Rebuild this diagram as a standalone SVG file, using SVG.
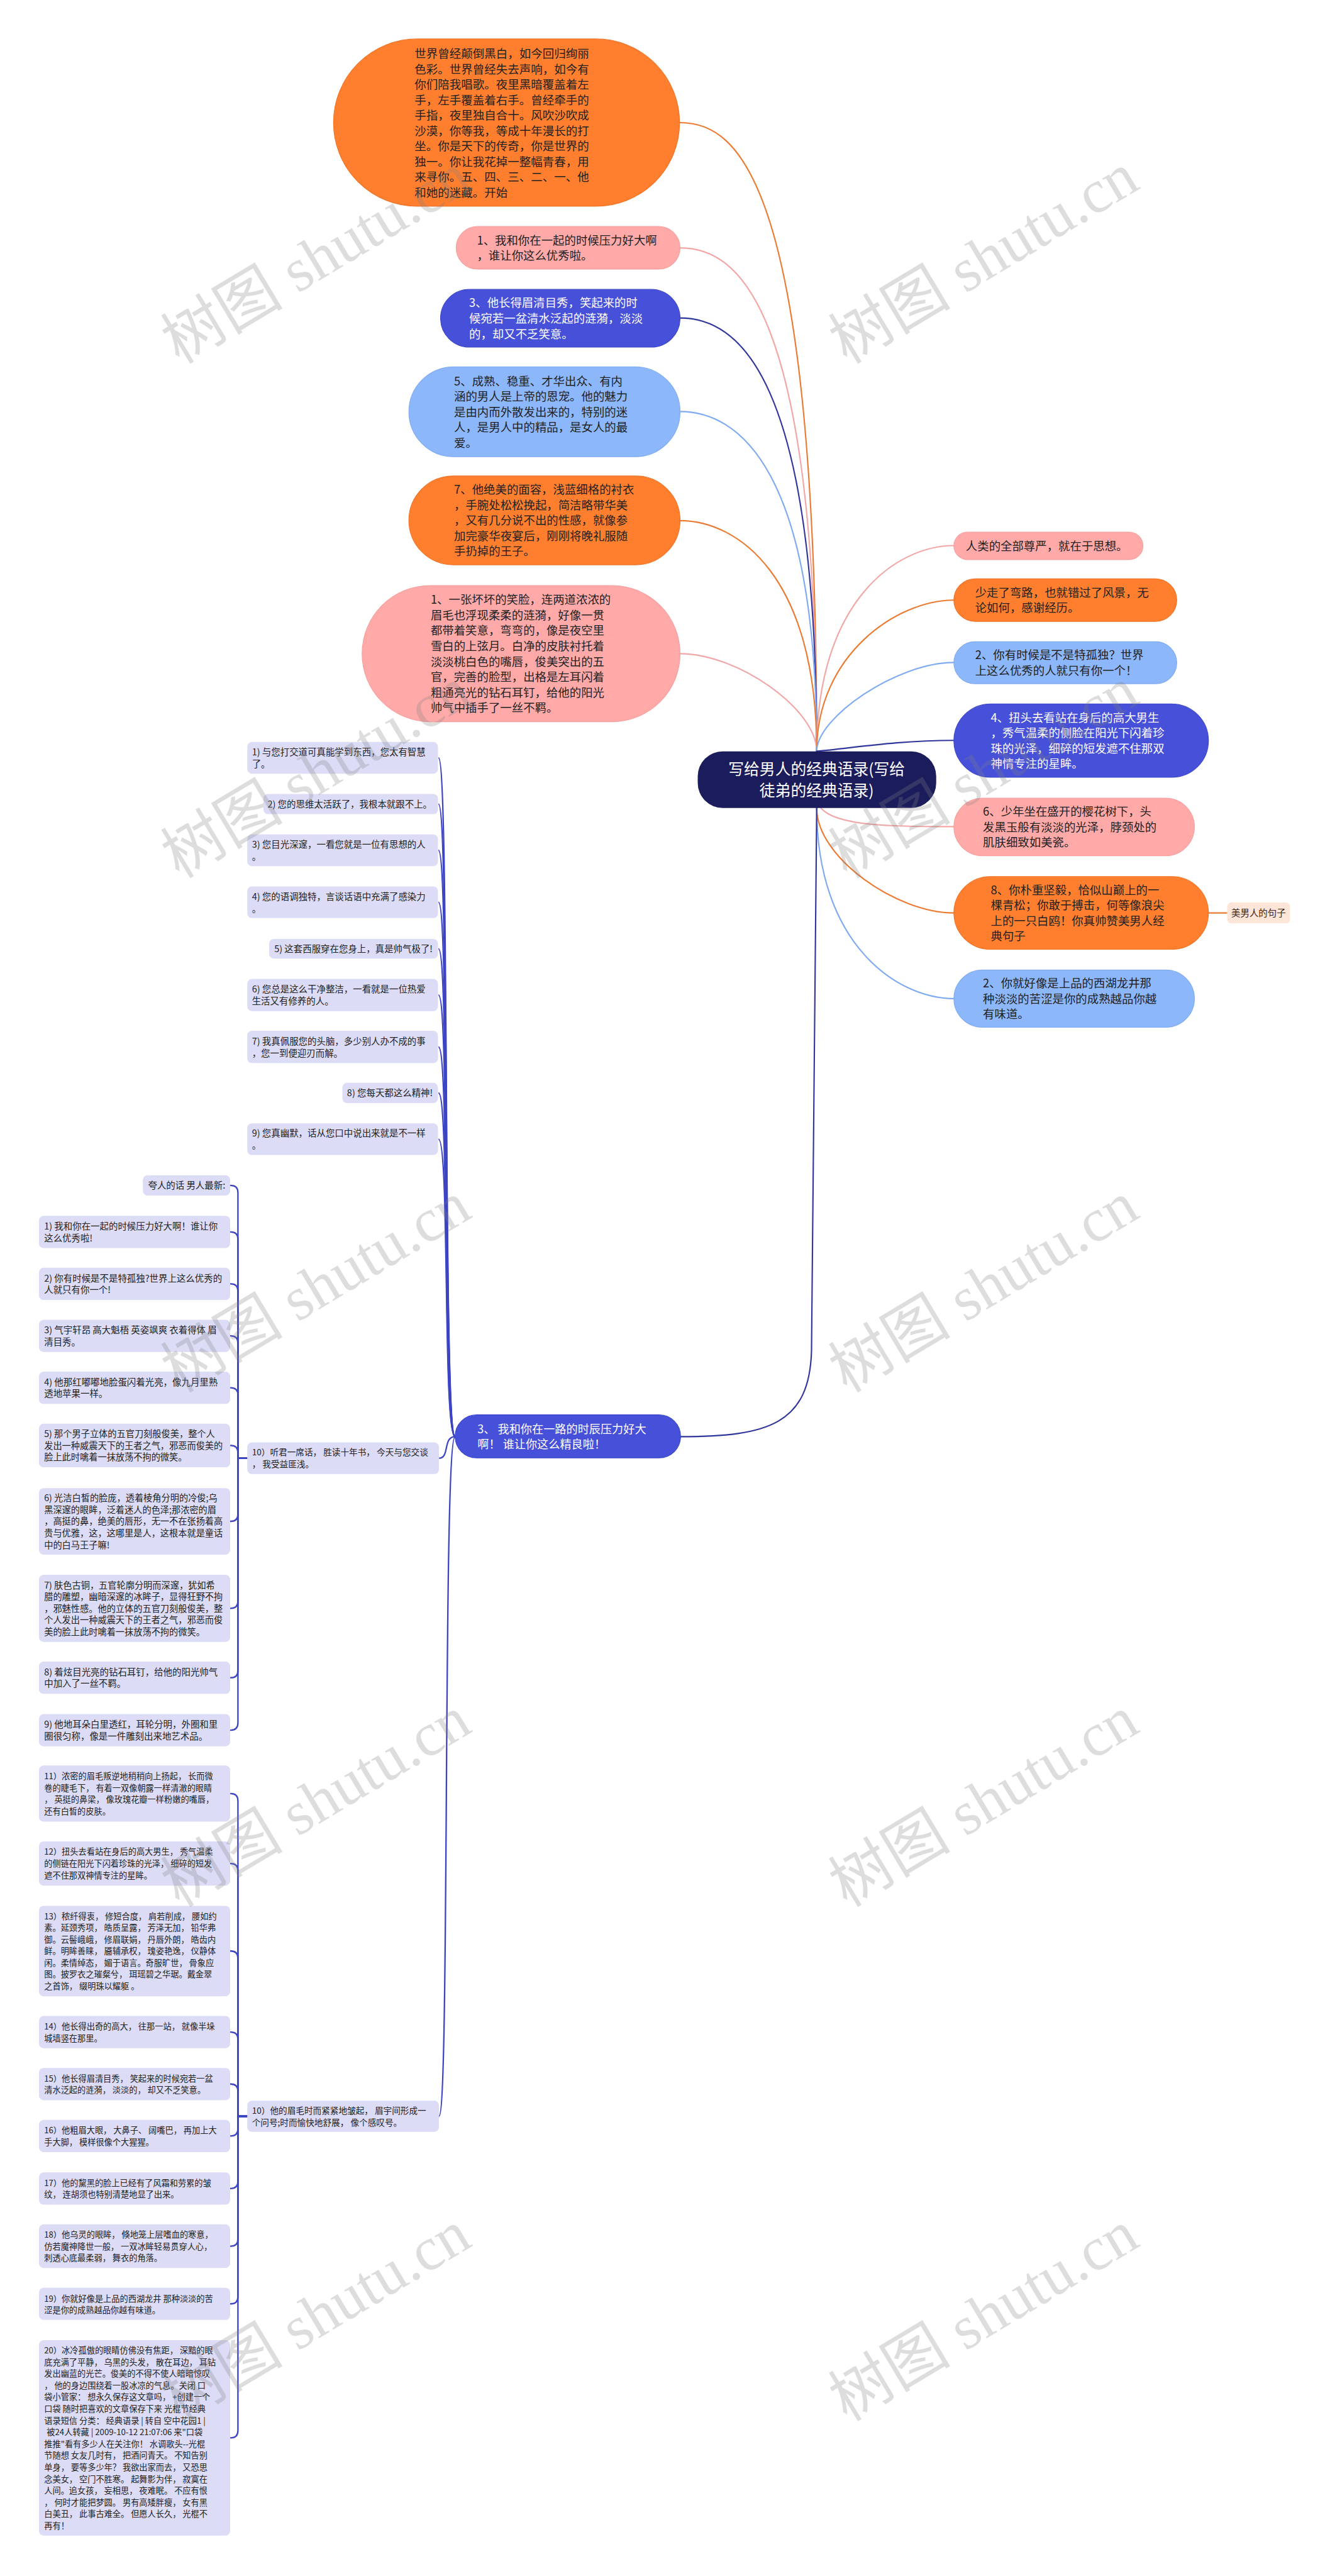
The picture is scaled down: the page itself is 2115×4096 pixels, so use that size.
<svg xmlns="http://www.w3.org/2000/svg" width="2115" height="4096" viewBox="0 0 2115 4096">
<style>
text{font-family:"Noto Sans CJK SC","Noto Sans",sans-serif;fill:#222}
.w{fill:#fff}
.f22{font-size:22.3px}
.f30{font-size:30px}
.f17{font-size:17.5px}
.f16{font-size:16px}
.f165{font-size:16.5px}
.c{fill:none;stroke-width:2.6;stroke-linecap:round}
.co{stroke:#eb7a32}
.cp{stroke:#f2a7a6}
.cn{stroke:#30369c}
.cl{stroke:#7eaaf2}
.cs{fill:none;stroke:#3d45c3;stroke-width:2.8}
.no{fill:#ff7f2f;stroke:#f07426;stroke-width:1.5}
.np{fill:#ffaaa9;stroke:#f7a09f;stroke-width:1.5}
.nb{fill:#4750d8;stroke:#3f48cc;stroke-width:1.5}
.nl{fill:#8db7fb;stroke:#80acf3;stroke-width:1.5}
.nv{fill:#dcdcf7}
.wm{font-family:"Liberation Serif","Noto Sans CJK SC",serif;font-size:118px;fill:#808080;fill-opacity:0.27}
</style>
<rect width="2115" height="4096" fill="#fff"/>
<g transform="scale(0.82617)">
<g id="connectors">
<path class="c co" d="M1309 236 C1419 236 1572 342 1572 1446"/>
<path class="c cp" d="M1309 477 C1419 477 1572 583 1572 1446"/>
<path class="c cn" d="M1309 612 C1419 612 1572 718 1572 1446"/>
<path class="c cl" d="M1309 792 C1419 792 1572 898 1572 1446"/>
<path class="c co" d="M1309 1002 C1419 1002 1572 1108 1572 1446"/>
<path class="c cp" d="M1309 1258 C1419 1258 1572 1364 1572 1446"/>
<path class="c cp" d="M1572 1446 C1572 1156 1726 1050 1836 1050"/>
<path class="c co" d="M1572 1446 C1572 1261 1726 1155 1836 1155"/>
<path class="c cl" d="M1572 1446 C1572 1381 1726 1275 1836 1275"/>
<path class="c cn" d="M1572 1446 C1640 1440 1726 1425 1836 1425"/>
<path class="c cp" d="M1580 1555 C1610 1591 1726 1591 1836 1591"/>
<path class="c co" d="M1572 1555 C1572 1651 1726 1757 1836 1757"/>
<path class="c cl" d="M1572 1555 C1572 1816 1726 1922 1836 1922"/>
<path class="c co" d="M2326 1757 H2362"/>
<path class="c cn" d="M1572 1555 L1562 2600 C1558 2740 1480 2765 1310 2765"/>
<path class="cs" d="M876 2765 C852 2765 866 1458.5 844 1458.5"/>
<path class="cs" d="M876 2765 C852 2765 866 1547.5 844 1547.5"/>
<path class="cs" d="M876 2765 C852 2765 866 1636.5 844 1636.5"/>
<path class="cs" d="M876 2765 C852 2765 866 1736.5 844 1736.5"/>
<path class="cs" d="M876 2765 C852 2765 866 1826 844 1826"/>
<path class="cs" d="M876 2765 C852 2765 866 1915 844 1915"/>
<path class="cs" d="M876 2765 C852 2765 866 2015 844 2015"/>
<path class="cs" d="M876 2765 C852 2765 866 2103.5 844 2103.5"/>
<path class="cs" d="M876 2765 C852 2765 866 2192.5 844 2192.5"/>
<path class="cs" d="M876 2765 C852 2765 866 2806.5 845 2806.5"/>
<path class="cs" d="M876 2765 C852 2765 866 4073 845 4073"/>
<path class="cs" d="M476 2806.5 H458 V2295.5 Q458 2281.5 444 2281.5 H443"/>
<path class="cs" d="M476 2806.5 H458 V2385 Q458 2371 444 2371 H443"/>
<path class="cs" d="M476 2806.5 H458 V2485 Q458 2471 444 2471 H443"/>
<path class="cs" d="M476 2806.5 H458 V2585 Q458 2571 444 2571 H443"/>
<path class="cs" d="M476 2806.5 H458 V2685 Q458 2671 444 2671 H443"/>
<path class="cs" d="M476 2806.5 H458 V2796 Q458 2782 444 2782 H443"/>
<path class="cs" d="M476 2806.5 H458 V2914 Q458 2928 444 2928 H443"/>
<path class="cs" d="M476 2806.5 H458 V3081.5 Q458 3095.5 444 3095.5 H443"/>
<path class="cs" d="M476 2806.5 H458 V3215 Q458 3229 444 3229 H443"/>
<path class="cs" d="M476 2806.5 H458 V3316 Q458 3330 444 3330 H443"/>
<path class="cs" d="M476 4073 H458 V3466 Q458 3452 444 3452 H443"/>
<path class="cs" d="M476 4073 H458 V3600.5 Q458 3586.5 444 3586.5 H443"/>
<path class="cs" d="M476 4073 H458 V3769 Q458 3755 444 3755 H443"/>
<path class="cs" d="M476 4073 H458 V3925 Q458 3911 444 3911 H443"/>
<path class="cs" d="M476 4073 H458 V4025 Q458 4011 444 4011 H443"/>
<path class="cs" d="M476 4073 H458 V4097 Q458 4111 444 4111 H443"/>
<path class="cs" d="M476 4073 H458 V4198 Q458 4212 444 4212 H443"/>
<path class="cs" d="M476 4073 H458 V4309 Q458 4323 444 4323 H443"/>
<path class="cs" d="M476 4073 H458 V4420 Q458 4434 444 4434 H443"/>
<path class="cs" d="M476 4073 H458 V4678 Q458 4692 444 4692 H443"/>
</g>

<g id="n-top">
<rect class="no" x="642" y="75" width="666" height="322" rx="161"/>
<text style="font-size:22.4px">
<tspan x="798" y="111.5">世界曾经颠倒黑白，如今回归绚丽</tspan>
<tspan x="798" y="141.2">色彩。世界曾经失去声响，如今有</tspan>
<tspan x="798" y="170.9">你们陪我唱歌。夜里黑暗覆盖着左</tspan>
<tspan x="798" y="200.6">手，左手覆盖着右手。曾经牵手的</tspan>
<tspan x="798" y="230.3">手指，夜里独自合十。风吹沙吹成</tspan>
<tspan x="798" y="260">沙漠，你等我，等成十年漫长的打</tspan>
<tspan x="798" y="289.7">坐。你是天下的传奇，你是世界的</tspan>
<tspan x="798" y="319.4">独一。你让我花掉一整幅青春，用</tspan>
<tspan x="798" y="349.1">来寻你。五、四、三、二、一、他</tspan>
<tspan x="798" y="378.8">和她的迷藏。开始</tspan>
</text>
</g>

<g id="n-l1">
<rect class="np" x="878" y="436" width="431" height="82" rx="41"/>
<text class="f22"><tspan x="918" y="470.6">1、我和你在一起的时候压力好大啊</tspan><tspan x="918" y="500.3">，谁让你这么优秀啦。</tspan></text>
</g>

<g id="n-l3">
<rect class="nb" x="848" y="557" width="461" height="111" rx="55.5"/>
<text class="f22 w"><tspan x="903" y="591.3">3、他长得眉清目秀，笑起来的时</tspan><tspan x="903" y="621">候宛若一盆清水泛起的涟漪，淡淡</tspan><tspan x="903" y="650.7">的，却又不乏笑意。</tspan></text>
</g>

<g id="n-l5">
<rect class="nl" x="787" y="706" width="522" height="173" rx="86.5"/>
<text class="f22"><tspan x="874" y="741.6">5、成熟、稳重、才华出众、有内</tspan><tspan x="874" y="771.3">涵的男人是上帝的恩宠。他的魅力</tspan><tspan x="874" y="801">是由内而外散发出来的，特别的迷</tspan><tspan x="874" y="830.7">人，是男人中的精品，是女人的最</tspan><tspan x="874" y="860.4">爱。</tspan></text>
</g>

<g id="n-l7">
<rect class="no" x="787" y="916" width="522" height="171" rx="85.5"/>
<text class="f22"><tspan x="874" y="950.6">7、他绝美的面容，浅蓝细格的衬衣</tspan><tspan x="874" y="980.3">，手腕处松松挽起，简洁略带华美</tspan><tspan x="874" y="1010">，又有几分说不出的性感，就像参</tspan><tspan x="874" y="1039.7">加完豪华夜宴后，刚刚将晚礼服随</tspan><tspan x="874" y="1069.4">手扔掉的王子。</tspan></text>
</g>

<g id="n-l1b">
<rect class="np" x="697" y="1127" width="612" height="262" rx="131"/>
<text class="f22"><tspan x="829" y="1162.5">1、一张坏坏的笑脸，连两道浓浓的</tspan><tspan x="829" y="1192.2">眉毛也浮现柔柔的涟漪，好像一贯</tspan><tspan x="829" y="1221.9">都带着笑意，弯弯的，像是夜空里</tspan><tspan x="829" y="1251.6">雪白的上弦月。白净的皮肤衬托着</tspan><tspan x="829" y="1281.3">淡淡桃白色的嘴唇，俊美突出的五</tspan><tspan x="829" y="1311">官，完善的脸型，出格是左耳闪着</tspan><tspan x="829" y="1340.7">粗通亮光的钻石耳钉，给他的阳光</tspan><tspan x="829" y="1370.4">帅气中插手了一丝不羁。</tspan></text>
</g>

<g id="n-center">
<rect x="1343" y="1446" width="459" height="109" rx="48" fill="#1b1c5c"/>
<text class="f30 w" text-anchor="middle"><tspan x="1572" y="1491.4">写给男人的经典语录(写给</tspan><tspan x="1572" y="1532.4">徒弟的经典语录)</tspan></text>
</g>

<g id="n-r1">
<rect class="np" x="1836" y="1024" width="364" height="53" rx="26.5"/>
<text class="f22" x="1859" y="1059">人类的全部尊严，就在于思想。</text>
</g>

<g id="n-r2">
<rect class="no" x="1836" y="1114" width="429" height="82" rx="41"/>
<text class="f22"><tspan x="1877" y="1148.6">少走了弯路，也就错过了风景，无</tspan><tspan x="1877" y="1178.3">论如何，感谢经历。</tspan></text>
</g>

<g id="n-r3">
<rect class="nl" x="1836" y="1235" width="429" height="81" rx="40.5"/>
<text class="f22"><tspan x="1877" y="1269.1">2、你有时候是不是特孤独？世界</tspan><tspan x="1877" y="1298.8">上这么优秀的人就只有你一个！</tspan></text>
</g>

<g id="n-r4">
<rect class="nb" x="1836" y="1355" width="490" height="141" rx="70.5"/>
<text class="f22 w"><tspan x="1907" y="1389.4">4、扭头去看站在身后的高大男生</tspan><tspan x="1907" y="1419.1">，秀气温柔的侧脸在阳光下闪着珍</tspan><tspan x="1907" y="1448.8">珠的光泽，细碎的短发遮不住那双</tspan><tspan x="1907" y="1478.5">神情专注的星眸。</tspan></text>
</g>

<g id="n-r5">
<rect class="np" x="1836" y="1536" width="463" height="111" rx="55.5"/>
<text class="f22"><tspan x="1892" y="1570.3">6、少年坐在盛开的樱花树下，头</tspan><tspan x="1892" y="1600">发黑玉般有淡淡的光泽，脖颈处的</tspan><tspan x="1892" y="1629.7">肌肤细致如美瓷。</tspan></text>
</g>

<g id="n-r6">
<rect class="no" x="1836" y="1687" width="490" height="140" rx="70"/>
<text class="f22"><tspan x="1907" y="1721">8、你朴重坚毅，恰似山巅上的一</tspan><tspan x="1907" y="1750.7">棵青松；你敢于搏击，何等像浪尖</tspan><tspan x="1907" y="1780.4">上的一只白鸥！你真帅赞美男人经</tspan><tspan x="1907" y="1810.1">典句子</tspan></text>
</g>

<g id="n-r6a">
<rect x="2362" y="1737" width="121" height="40" rx="8" fill="#fde5d8"/>
<text class="f17" x="2370" y="1763.6" style="fill:#3a2418">美男人的句子</text>
</g>

<g id="n-r7">
<rect class="nl" x="1836" y="1867" width="463" height="110" rx="55"/>
<text class="f22"><tspan x="1892" y="1900.8">2、你就好像是上品的西湖龙井那</tspan><tspan x="1892" y="1930.5">种淡淡的苦涩是你的成熟越品你越</tspan><tspan x="1892" y="1960.2">有味道。</tspan></text>
</g>

<g id="n-b3">
<rect class="nb" x="876" y="2723" width="434" height="83" rx="41.5"/>
<text class="w" style="font-size:22px"><tspan x="919" y="2758.1">3、 我和你在一路的时辰压力好大</tspan><tspan x="919" y="2787.8">啊！ 谁让你这么精良啦！</tspan></text>
</g>

<g id="n-a1"><rect class="nv" x="476" y="1428" width="367" height="61" rx="9"/><text class="f17"><tspan x="485" y="1453.6">1) 与您打交道可真能学到东西，您太有智慧</tspan><tspan x="485" y="1476.6">了。</tspan></text></g>
<g id="n-a2"><rect class="nv" x="507" y="1528" width="336" height="39" rx="9"/><text class="f17" x="515" y="1554.1">2) 您的思维太活跃了，我根本就跟不上。</text></g>
<g id="n-a3"><rect class="nv" x="476" y="1606" width="367" height="61" rx="9"/><text class="f17"><tspan x="485" y="1631.6">3) 您目光深邃，一看您就是一位有思想的人</tspan><tspan x="485" y="1654.6">。</tspan></text></g>
<g id="n-a4"><rect class="nv" x="476" y="1706" width="367" height="61" rx="9"/><text class="f17"><tspan x="485" y="1731.6">4) 您的语调独特，言谈话语中充满了感染力</tspan><tspan x="485" y="1754.6">。</tspan></text></g>
<g id="n-a5"><rect class="nv" x="518" y="1807" width="325" height="38" rx="9"/><text class="f17" x="528" y="1832.6">5) 这套西服穿在您身上，真是帅气极了!</text></g>
<g id="n-a6"><rect class="nv" x="476" y="1884" width="367" height="62" rx="9"/><text class="f17"><tspan x="485" y="1910.1">6) 您总是这么干净整洁，一看就是一位热爱</tspan><tspan x="485" y="1933.1">生活又有修养的人。</tspan></text></g>
<g id="n-a7"><rect class="nv" x="476" y="1984" width="367" height="62" rx="9"/><text class="f17"><tspan x="485" y="2010.1">7) 我真佩服您的头脑，多少别人办不成的事</tspan><tspan x="485" y="2033.1">，您一到便迎刃而解。</tspan></text></g>
<g id="n-a8"><rect class="nv" x="659" y="2084" width="184" height="39" rx="9"/><text class="f17" x="668" y="2110.1">8) 您每天都这么精神!</text></g>
<g id="n-a9"><rect class="nv" x="476" y="2162" width="367" height="61" rx="9"/><text class="f17"><tspan x="485" y="2187.6">9) 您真幽默，话从您口中说出来就是不一样</tspan><tspan x="485" y="2210.6">。</tspan></text></g>

<g id="n-a10"><rect class="nv" x="476" y="2776" width="369" height="61" rx="9"/><text class="f165"><tspan x="485" y="2801.3">10）听君一席话， 胜读十年书， 今天与您交谈</tspan><tspan x="485" y="2824.3">， 我受益匪浅。</tspan></text></g>
<g id="n-a11"><rect class="nv" x="476" y="4043" width="369" height="60" rx="9"/><text class="f165"><tspan x="485" y="4067.8">10）他的眉毛时而紧紧地皱起， 眉宇间形成一</tspan><tspan x="485" y="4090.8">个问号;时而愉快地舒展， 像个感叹号。</tspan></text></g>

<g id="n-k0"><rect class="nv" x="275" y="2262" width="168" height="39" rx="9"/><text class="f17" x="285" y="2288.1">夸人的话 男人最新:</text></g>
<g id="n-k1"><rect class="nv" x="75" y="2340" width="368" height="62" rx="9"/><text class="f17"><tspan x="85" y="2366.4">1) 我和你在一起的时候压力好大啊！谁让你</tspan><tspan x="85" y="2388.9">这么优秀啦!</tspan></text></g>
<g id="n-k2"><rect class="nv" x="75" y="2440" width="368" height="62" rx="9"/><text class="f17"><tspan x="85" y="2466.4">2) 你有时候是不是特孤独?世界上这么优秀的</tspan><tspan x="85" y="2488.9">人就只有你一个!</tspan></text></g>
<g id="n-k3"><rect class="nv" x="75" y="2540" width="368" height="62" rx="9"/><text class="f17"><tspan x="85" y="2566.4">3) 气宇轩昂 高大魁梧 英姿飒爽 衣着得体 眉</tspan><tspan x="85" y="2588.9">清目秀。</tspan></text></g>
<g id="n-k4"><rect class="nv" x="75" y="2640" width="368" height="62" rx="9"/><text class="f17"><tspan x="85" y="2666.4">4) 他那红嘟嘟地脸蛋闪着光亮，像九月里熟</tspan><tspan x="85" y="2688.9">透地苹果一样。</tspan></text></g>
<g id="n-k5"><rect class="nv" x="75" y="2740" width="368" height="84" rx="9"/><text style="font-size:17.2px"><tspan x="85" y="2766.1">5) 那个男子立体的五官刀刻般俊美，整个人</tspan><tspan x="85" y="2788.6">发出一种威震天下的王者之气，邪恶而俊美的</tspan><tspan x="85" y="2811.1">脸上此时噙着一抹放荡不拘的微笑。</tspan></text></g>
<g id="n-k6"><rect class="nv" x="75" y="2864" width="368" height="128" rx="9"/><text style="font-size:17.2px"><tspan x="85" y="2889.6">6) 光洁白皙的脸庞，透着棱角分明的冷俊;乌</tspan><tspan x="85" y="2912.1">黑深邃的眼眸，泛着迷人的色泽;那浓密的眉</tspan><tspan x="85" y="2934.6">，高挺的鼻，绝美的唇形，无一不在张扬着高</tspan><tspan x="85" y="2957.1">贵与优雅，这，这哪里是人，这根本就是童话</tspan><tspan x="85" y="2979.6">中的白马王子嘛!</tspan></text></g>
<g id="n-k7"><rect class="nv" x="75" y="3031" width="368" height="129" rx="9"/><text style="font-size:17.2px"><tspan x="85" y="3057.1">7) 肤色古铜，五官轮廓分明而深邃，犹如希</tspan><tspan x="85" y="3079.6">腊的雕塑，幽暗深邃的冰眸子，显得狂野不拘</tspan><tspan x="85" y="3102.1">，邪魅性感。他的立体的五官刀刻般俊美，整</tspan><tspan x="85" y="3124.6">个人发出一种威震天下的王者之气，邪恶而俊</tspan><tspan x="85" y="3147.1">美的脸上此时噙着一抹放荡不拘的微笑。</tspan></text></g>
<g id="n-k8"><rect class="nv" x="75" y="3198" width="368" height="62" rx="9"/><text class="f17"><tspan x="85" y="3224.4">8) 着炫目光亮的钻石耳钉，给他的阳光帅气</tspan><tspan x="85" y="3246.9">中加入了一丝不羁。</tspan></text></g>
<g id="n-k9"><rect class="nv" x="75" y="3299" width="368" height="62" rx="9"/><text class="f17"><tspan x="85" y="3325.4">9) 他地耳朵白里透红，耳轮分明，外圈和里</tspan><tspan x="85" y="3347.9">圈很匀称，像是一件雕刻出来地艺术品。</tspan></text></g>

<g id="n-m11"><rect class="nv" x="75" y="3398" width="368" height="108" rx="9"/><text class="f16"><tspan x="85" y="3424.4">11）浓密的眉毛叛逆地稍稍向上扬起， 长而微</tspan><tspan x="85" y="3446.9">卷的睫毛下， 有着一双像朝露一样清澈的眼睛</tspan><tspan x="85" y="3469.4">， 英挺的鼻梁， 像玫瑰花瓣一样粉嫩的嘴唇，</tspan><tspan x="85" y="3491.9">还有白皙的皮肤。</tspan></text></g>
<g id="n-m12"><rect class="nv" x="75" y="3544" width="368" height="85" rx="9"/><text class="f16"><tspan x="85" y="3570.1">12）扭头去看站在身后的高大男生， 秀气温柔</tspan><tspan x="85" y="3592.6">的侧链在阳光下闪着珍珠的光泽， 细碎的短发</tspan><tspan x="85" y="3615.1">遮不住那双神情专注的星眸。</tspan></text></g>
<g id="n-m13"><rect class="nv" x="75" y="3668" width="368" height="174" rx="9"/><text class="f16"><tspan x="85" y="3693.6">13）秾纤得衷， 修短合度， 肩若削成， 腰如约</tspan><tspan x="85" y="3716.1">素。延颈秀项， 皓质呈露， 芳泽无加， 铅华弗</tspan><tspan x="85" y="3738.6">御。云髻峨峨， 修眉联娟， 丹唇外朗， 皓齿内</tspan><tspan x="85" y="3761.1">鲜。明眸善睐， 靥辅承权， 瑰姿艳逸， 仪静体</tspan><tspan x="85" y="3783.6">闲。柔情绰态， 媚于语言。奇服旷世， 骨象应</tspan><tspan x="85" y="3806.1">图。披罗衣之璀粲兮， 珥瑶碧之华琚。戴金翠</tspan><tspan x="85" y="3828.6">之首饰， 缀明珠以耀躯 。</tspan></text></g>
<g id="n-m14"><rect class="nv" x="75" y="3880" width="368" height="62" rx="9"/><text class="f16"><tspan x="85" y="3905.9">14）他长得出奇的高大， 往那一站， 就像半垛</tspan><tspan x="85" y="3928.4">城墙竖在那里。</tspan></text></g>
<g id="n-m15"><rect class="nv" x="75" y="3980" width="368" height="62" rx="9"/><text class="f16"><tspan x="85" y="4005.9">15）他长得眉清目秀， 笑起来的时候宛若一盆</tspan><tspan x="85" y="4028.4">清水泛起的涟漪， 淡淡的， 却又不乏笑意。</tspan></text></g>
<g id="n-m16"><rect class="nv" x="75" y="4080" width="368" height="62" rx="9"/><text class="f16"><tspan x="85" y="4105.9">16）他粗眉大眼， 大鼻子、 阔嘴巴， 再加上大</tspan><tspan x="85" y="4128.4">手大脚， 模样很像个大猩猩。</tspan></text></g>
<g id="n-m17"><rect class="nv" x="75" y="4181" width="368" height="62" rx="9"/><text class="f16"><tspan x="85" y="4206.9">17）他的黧黑的脸上已经有了风霜和劳累的皱</tspan><tspan x="85" y="4229.4">纹， 连胡须也特别清楚地显了出来。</tspan></text></g>
<g id="n-m18"><rect class="nv" x="75" y="4281" width="368" height="84" rx="9"/><text class="f16"><tspan x="85" y="4306.6">18）他乌灵的眼眸， 倏地笼上层嗜血的寒意，</tspan><tspan x="85" y="4329.1">仿若魔神降世一般， 一双冰眸轻易贯穿人心，</tspan><tspan x="85" y="4351.6">刺透心底最柔弱， 舞衣的角落。</tspan></text></g>
<g id="n-m19"><rect class="nv" x="75" y="4403" width="368" height="62" rx="9"/><text class="f16"><tspan x="85" y="4429.9">19）你就好像是上品的西湖龙井 那种淡淡的苦</tspan><tspan x="85" y="4452.4">涩是你的成熟越品你越有味道。</tspan></text></g>
<g id="n-m20"><rect class="nv" x="75" y="4504" width="368" height="376" rx="9"/><text class="f16"><tspan x="85" y="4529.4">20）冰冷孤傲的眼睛仿佛没有焦距， 深黯的眼</tspan><tspan x="85" y="4551.9">底充满了平静， 乌黑的头发， 散在耳边， 耳钻</tspan><tspan x="85" y="4574.4">发出幽蓝的光芒。俊美的不得不使人暗暗惊叹</tspan><tspan x="85" y="4596.9">， 他的身边围绕着一股冰凉的气息。关闭 口</tspan><tspan x="85" y="4619.4">袋小管家： 想永久保存这文章吗， +创建一个</tspan><tspan x="85" y="4641.9">口袋 随时把喜欢的文章保存下来 光棍节经典</tspan><tspan x="85" y="4664.4">语录短信 分类： 经典语录 | 转自 空中花园1 |</tspan><tspan x="90" y="4686.9">被24人转藏 | 2009-10-12 21:07:06 来"口袋</tspan><tspan x="85" y="4709.4">推推"看有多少人在关注你！ 水调歌头--光棍</tspan><tspan x="85" y="4731.9">节随想 女友几时有， 把酒问青天。 不知告别</tspan><tspan x="85" y="4754.4">单身， 要等多少年？ 我欲出家而去， 又恐思</tspan><tspan x="85" y="4776.9">念美女， 空门不胜寒。 起舞影为伴， 寂寞在</tspan><tspan x="85" y="4799.4">人间。追女孩， 妄相思， 夜难眠。 不应有恨</tspan><tspan x="85" y="4821.9">， 何时才能把梦圆。 男有高矮胖瘦， 女有黑</tspan><tspan x="85" y="4844.4">白美丑， 此事古难全。 但愿人长久， 光棍不</tspan><tspan x="85" y="4866.9">再有！</tspan></text></g>

<g id="watermarks">
<text class="wm" transform="translate(345 702) rotate(-31)">树图 shutu.cn</text>
<text class="wm" transform="translate(1630 702) rotate(-31)">树图 shutu.cn</text>
<text class="wm" transform="translate(345 1692) rotate(-31)">树图 shutu.cn</text>
<text class="wm" transform="translate(1630 1692) rotate(-31)">树图 shutu.cn</text>
<text class="wm" transform="translate(345 2682) rotate(-31)">树图 shutu.cn</text>
<text class="wm" transform="translate(1630 2682) rotate(-31)">树图 shutu.cn</text>
<text class="wm" transform="translate(345 3672) rotate(-31)">树图 shutu.cn</text>
<text class="wm" transform="translate(1630 3672) rotate(-31)">树图 shutu.cn</text>
<text class="wm" transform="translate(345 4662) rotate(-31)">树图 shutu.cn</text>
<text class="wm" transform="translate(1630 4662) rotate(-31)">树图 shutu.cn</text>
</g>
</g>
</svg>
